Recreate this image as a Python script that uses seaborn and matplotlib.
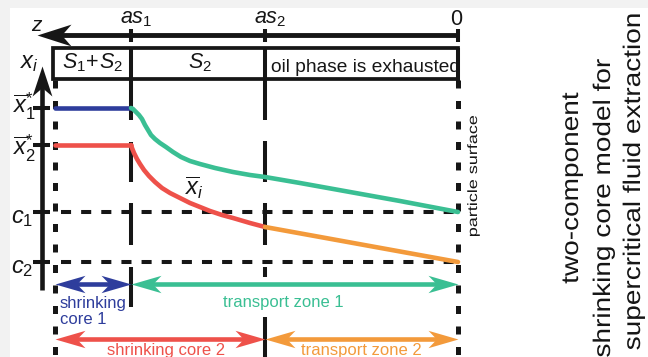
import numpy as np
import pandas as pd
import matplotlib
matplotlib.use("Agg")
import matplotlib.pyplot as plt
import seaborn as sns
from matplotlib.patches import Rectangle, PathPatch
from matplotlib.path import Path
from matplotlib.textpath import TextPath
from matplotlib.font_manager import FontProperties
from matplotlib.transforms import Affine2D

sns.set_theme(style="white")
plt.rcParams["font.family"] = ["Liberation Sans", "DejaVu Sans"]
plt.rcParams["mathtext.fontset"] = "custom"
plt.rcParams["mathtext.it"] = "Liberation Sans:italic"
plt.rcParams["mathtext.rm"] = "Liberation Sans"
plt.rcParams["mathtext.sf"] = "Liberation Sans"

W, H = 648, 357
BLACK = "#161616"
BLUE = "#2e3d9c"
GREEN = "#3abf93"
RED = "#ee514a"
ORANGE = "#f39a3b"

# ---------- diagram data (pixel-like units, y grows downward) ----------
z_pos = [131, 265, 458]                      # as1, as2, 0
z_labels = [r"$as_1$", r"$as_2$", "0"]
core_x = 55                                  # centre of particle
level_y = [108, 145, 212, 262]               # x1*, x2*, c1, c2
level_labels = [r"$\overline{x}^{*}_{1}$", r"$\overline{x}^{*}_{2}$", r"$c_1$", r"$c_2$"]

blue_x = [55, 131]
blue_y = [108, 108]
red_flat_x = [55, 131]
red_flat_y = [145, 145]
green_x = [131, 133, 136, 139, 142, 145, 148, 151, 155, 160, 166, 173, 181, 190, 200, 215,
           233, 250, 265, 300, 350, 400, 458]
green_y = [108, 109, 112, 115, 119, 125, 130, 135, 139, 143, 147, 152, 157, 161, 164, 168,
           172, 175, 177, 183, 192, 201, 212]
red_x = [131, 132, 134, 137, 140, 144, 149, 155, 162, 170, 180, 190, 200, 210, 222, 233, 250, 265]
red_y = [145, 148, 153, 159, 164, 170, 176, 182, 188, 193, 198, 203, 207, 211, 215, 218, 223, 227]
orange_x = [265, 458]
orange_y = [227, 262]

zone_names = ["shrinking\ncore 1", "transport zone 1", "shrinking core 2", "transport zone 2"]
zone_span = [(55, 131), (131, 458), (55, 265), (265, 458)]
zone_row = [284, 284, 339, 339]
zone_colors = [BLUE, GREEN, RED, ORANGE]

title_lines = ["two-component", "shrinking core model for", "supercritical fluid extraction"]
title_base_x = [578, 610, 640]
title_center_y = [188, 208, 182]

fig = plt.figure(figsize=(W / 100, H / 100), dpi=100, facecolor="#f2f2f2")
ax = fig.add_axes([10 / W, 0, (W - 10) / W, (H - 8) / H])
ax.set_facecolor("white")
ax.set_xticks([])
ax.set_yticks([])
for sp in ax.spines.values():
    sp.set_visible(False)

lw_black = 2.9
NOTCH = 0.72


def head_marker(angle, half_w):
    # stealth-like arrowhead, tip at the origin, pointing along +x before rotation
    verts = [(0, 0), (-1, half_w), (-NOTCH, 0), (-1, -half_w), (0, 0)]
    codes = [Path.MOVETO, Path.LINETO, Path.LINETO, Path.LINETO, Path.CLOSEPOLY]
    return Path(verts, codes).transformed(Affine2D().rotate_deg(angle))


def arrow(x0, y0, x1, y1, color, lw, head_len, half_w, both=False):
    # head at (x1, y1); optionally also at (x0, y0). Units are pixels.
    dx, dy = x1 - x0, y1 - y0
    dist = np.hypot(dx, dy)
    ux, uy = dx / dist, dy / dist
    cut = NOTCH * head_len * 0.95
    sx0, sy0 = (x0 + ux * cut, y0 + uy * cut) if both else (x0, y0)
    ax.plot([sx0, x1 - ux * cut], [sy0, y1 - uy * cut], color=color, lw=lw, solid_capstyle="butt")
    ang = np.degrees(np.arctan2(-dy, dx))  # screen angle (y axis inverted)
    ms = 2 * head_len * 0.72
    ax.plot([x1], [y1], marker=head_marker(ang, half_w), ms=ms, mfc=color, mew=0, ls="none")
    if both:
        ax.plot([x0], [y0], marker=head_marker(ang + 180, half_w), ms=ms, mfc=color, mew=0, ls="none")


# z axis on top
arrow(z_pos[-1], 35, 37, 35, BLACK, 3.5, 34, 0.32)
for zp in z_pos:
    ax.plot([zp, zp], [29, 42], color=BLACK, lw=lw_black, solid_capstyle="butt")
ax.text(37, 31, r"$z$", fontsize=15, ha="center", va="baseline", color=BLACK)
ax.text(136, 23, z_labels[0], fontsize=15.5, ha="center", va="baseline", color=BLACK)
ax.text(270, 23, z_labels[1], fontsize=15.5, ha="center", va="baseline", color=BLACK)
ax.text(456, 25, z_labels[2], fontsize=15.5, ha="center", va="baseline", color=BLACK)

# box with the three stages
ax.add_patch(Rectangle((53, 48), z_pos[-1] - 53, 31, fill=False, lw=2.7, ec=BLACK))
ax.text(93, 68, r"$S_1\!+\!S_2$", fontsize=15.5, ha="center", va="baseline", color=BLACK)
ax.text(200, 68, r"$S_2$", fontsize=15.5, ha="center", va="baseline", color=BLACK)
oil = ax.text(271, 72, "oil phase is exhausted", fontsize=13.8, ha="left", va="baseline", color=BLACK)
clip = Rectangle((53, 48), 403, 31, transform=ax.transData)
oil.set_clip_path(clip)
ax.plot([z_pos[-1]] * 2, [48, 87], color=BLACK, lw=lw_black, solid_capstyle="butt")

# as1 / as2 boundaries
as_segments = {
    z_pos[0]: [(48, 120), (142, 182), (203, 245), (267, 307)],
    z_pos[1]: [(48, 120), (141, 182), (203, 245), (267, 277), (317, 357)],
}
for xp, segs in as_segments.items():
    for y0, y1 in segs:
        ax.plot([xp, xp], [y0, y1], color=BLACK, lw=lw_black, solid_capstyle="butt")

# dotted particle centre and surface
for xp in [core_x, z_pos[-1]]:
    ax.plot([xp, xp], [80, H], color=BLACK, lw=3.6, linestyle=(0, (1.6, 2.5)), dash_capstyle="butt")

# concentration levels c1, c2
for yl in level_y[2:]:
    ax.plot([61, z_pos[-1]], [yl, yl], color=BLACK, lw=lw_black, linestyle=(0, (2.5, 2.5)),
            dash_capstyle="butt")

# y axis
arrow(42, 290, 42, 66, BLACK, 3.3, 30, 0.33)
for yl in level_y:
    ax.plot([33, 50], [yl, yl], color=BLACK, lw=lw_black, solid_capstyle="butt")
ax.text(29, 68, r"$x_i$", fontsize=17, ha="center", va="baseline", color=BLACK)
ax.text(25, 106, level_labels[0], fontsize=17, ha="center", va="center", color=BLACK)
ax.text(25, 148, level_labels[1], fontsize=17, ha="center", va="center", color=BLACK)
ax.text(22, 223, level_labels[2], fontsize=17, ha="center", va="baseline", color=BLACK)
ax.text(22, 273, level_labels[3], fontsize=17, ha="center", va="baseline", color=BLACK)

# concentration curves
curves = pd.concat([
    pd.DataFrame({"x": blue_x, "y": blue_y, "s": "blue"}),
    pd.DataFrame({"x": red_flat_x, "y": red_flat_y, "s": "red_flat"}),
    pd.DataFrame({"x": green_x, "y": green_y, "s": "green"}),
    pd.DataFrame({"x": red_x, "y": red_y, "s": "red"}),
    pd.DataFrame({"x": orange_x, "y": orange_y, "s": "orange"}),
])
sns.lineplot(data=curves, x="x", y="y", hue="s", units="s", estimator=None, sort=False,
             palette={"blue": BLUE, "red_flat": RED, "green": GREEN, "red": RED, "orange": ORANGE},
             linewidth=3.3, legend=False, ax=ax)
ax.set_xlabel("")
ax.set_ylabel("")
ax.text(195, 188, r"$\overline{x}_i$", fontsize=17, ha="center", va="center", color=BLACK)

# zone arrows
for (x0, x1), yr, col in zip(zone_span, zone_row, zone_colors):
    arrow(x0, yr, x1, yr, col, 3.3, 30, 0.29, both=True)
ax.text(60, 296, zone_names[0], fontsize=12, ha="left", va="top", color=BLUE, linespacing=1.05)
ax.text(283, 307, zone_names[1], fontsize=12, ha="center", va="baseline", color=GREEN)
ax.text(166, 343, zone_names[2], fontsize=12, ha="center", va="top", color=RED)
ax.text(361, 343, zone_names[3], fontsize=12, ha="center", va="top", color=ORANGE)


def stretched_vtext(s, x_base, y_center, em_thick, em_len, color):
    fp = FontProperties(family="Liberation Sans")
    tp = TextPath((0, 0), s, size=100, prop=fp)
    ext = tp.get_extents()
    xc = (ext.x0 + ext.x1) / 2
    tr = (Affine2D().translate(-xc, 0).scale(em_len / 100, em_thick / 100)
          .rotate_deg(90).translate(x_base, H - y_center))
    fig.add_artist(PathPatch(tp, transform=tr, fc=color, ec="none", lw=0))


stretched_vtext("particle surface", 477, 176, 13.5, 18, BLACK)
for line, xb, yc in zip(title_lines, title_base_x, title_center_y):
    stretched_vtext(line, xb, yc, 24, 28, BLACK)

ax.set_xlim(10, W)
ax.set_ylim(H, 8)
fig.savefig("out.png", dpi=100, facecolor=fig.get_facecolor())
